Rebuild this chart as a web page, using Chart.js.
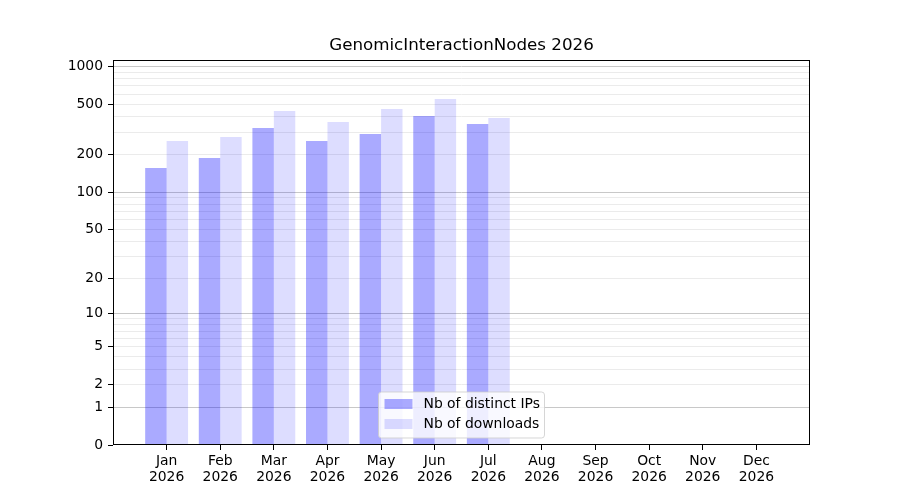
<!DOCTYPE html>
<html>
<head>
<meta charset="utf-8">
<script src="https://cdn.jsdelivr.net/npm/chart.js@4.4.1/dist/chart.umd.min.js"></script>
<style>
  html, body { margin: 0; padding: 0; background: #ffffff; }
  #wrap { width: 900px; height: 500px; }
</style>
</head>
<body>
<div id="wrap"><canvas id="c" width="900" height="500"></canvas></div>
<script>
// ---- data ----
const chartTitle = 'GenomicInteractionNodes 2026';
const months = ['Jan','Feb','Mar','Apr','May','Jun','Jul','Aug','Sep','Oct','Nov','Dec'];
const yearLabel = '2026';
const distinctIPs = [156, 187, 324, 255, 290, 403, 349];
const downloads   = [255, 275, 442, 361, 458, 551, 389];
const seriesNames = ['Nb of distinct IPs', 'Nb of downloads'];
const yTickLabels = [0, 1, 2, 5, 10, 20, 50, 100, 200, 500, 1000];
const yMajorGrid  = [1, 10, 100, 1000];
const yMinorGrid  = [2,3,4,5,6,7,8,9,20,30,40,50,60,70,80,90,200,300,400,500,600,700,800,900];
const yMax = 1123;

const FONT = 'DejaVu Sans';

// ---- custom log10(1+x) scale ----
const tf = v => Math.log10(1 + Math.max(0, v));
class Log1pScale extends Chart.LinearScale {
  buildTicks() {
    const vals = [0].concat(yMajorGrid, yMinorGrid).sort((a, b) => a - b);
    return vals.map(v => ({ value: v }));
  }
  configure() {
    super.configure();
    this._tMin = tf(this.min);
    this._tMax = tf(this.max);
  }
  getPixelForValue(v) {
    return this.getPixelForDecimal((tf(v) - this._tMin) / (this._tMax - this._tMin));
  }
  getValueForPixel(p) {
    const d = this.getDecimalForPixel(p);
    return Math.pow(10, this._tMin + d * (this._tMax - this._tMin)) - 1;
  }
}
Log1pScale.id = 'log1p';
Log1pScale.defaults = {};
Chart.register(Log1pScale);

// ---- plugins ----
const framePlugin = {
  id: 'frame',
  afterDatasetsDraw(chart) {
    const { ctx, chartArea: a } = chart;
    ctx.save();
    ctx.strokeStyle = '#000000';
    ctx.lineWidth = 1;
    ctx.strokeRect(Math.round(a.left) + 0.5, Math.round(a.top) + 0.5,
                   Math.round(a.right - a.left) - 1, Math.round(a.bottom - a.top) - 1);
    ctx.restore();
  }
};

const titlePlugin = {
  id: 'mplTitle',
  afterDraw(chart) {
    const { ctx, chartArea: a } = chart;
    ctx.save();
    ctx.font = '16.7px "' + FONT + '"';
    ctx.fillStyle = '#000000';
    ctx.textAlign = 'center';
    ctx.textBaseline = 'middle';
    ctx.fillText(chartTitle, (a.left + a.right) / 2, a.top - 14);
    ctx.restore();
  }
};

const legendPlugin = {
  id: 'mplLegend',
  afterDraw(chart) {
    const { ctx, chartArea: a } = chart;
    const w = 166, h = 46;
    const cx = (a.left + a.right) / 2;
    const x0 = cx - w / 2, y1 = a.bottom - 7, y0 = y1 - h;
    ctx.save();
    ctx.beginPath();
    const r = 3;
    ctx.moveTo(x0 + r, y0);
    ctx.lineTo(x0 + w - r, y0);
    ctx.quadraticCurveTo(x0 + w, y0, x0 + w, y0 + r);
    ctx.lineTo(x0 + w, y1 - r);
    ctx.quadraticCurveTo(x0 + w, y1, x0 + w - r, y1);
    ctx.lineTo(x0 + r, y1);
    ctx.quadraticCurveTo(x0, y1, x0, y1 - r);
    ctx.lineTo(x0, y0 + r);
    ctx.quadraticCurveTo(x0, y0, x0 + r, y0);
    ctx.closePath();
    ctx.fillStyle = 'rgba(255,255,255,0.8)';
    ctx.fill();
    ctx.strokeStyle = 'rgba(204,204,204,0.8)';
    ctx.lineWidth = 1;
    ctx.stroke();
    ctx.font = '13.9px "' + FONT + '"';
    ctx.textBaseline = 'middle';
    ctx.textAlign = 'left';
    chart.data.datasets.forEach((ds, i) => {
      const cy = y0 + 12 + i * 20;
      ctx.fillStyle = ds.backgroundColor;
      ctx.fillRect(x0 + 6, cy - 5, 28, 10);
      ctx.fillStyle = '#000000';
      ctx.fillText(ds.label, x0 + 45, cy);
    });
    ctx.restore();
  }
};

// ---- chart ----
new Chart(document.getElementById('c'), {
  type: 'bar',
  data: {
    datasets: [
      {
        label: seriesNames[0],
        data: distinctIPs.map((v, i) => ({ x: i, y: v })),
        backgroundColor: 'rgba(0,0,255,0.333)',
        borderWidth: 0,
        categoryPercentage: 0.8,
        barPercentage: 1.0
      },
      {
        label: seriesNames[1],
        data: downloads.map((v, i) => ({ x: i, y: v })),
        backgroundColor: 'rgba(0,0,255,0.133)',
        borderWidth: 0,
        categoryPercentage: 0.8,
        barPercentage: 1.0
      }
    ]
  },
  options: {
    responsive: false,
    animation: false,
    devicePixelRatio: 1,
    layout: { padding: { top: 60, right: 90, bottom: 0, left: 0 } },
    plugins: {
      legend: { display: false },
      title: { display: false },
      tooltip: { enabled: false }
    },
    scales: {
      x: {
        type: 'linear',
        offset: false,
        min: -1,
        max: 12,
        afterBuildTicks(scale) {
          scale.ticks = months.map((m, i) => ({ value: i }));
        },
        afterFit(scale) { scale.height = 55; },
        ticks: {
          autoSkip: false,
          maxRotation: 0,
          padding: 3,
          color: '#000000',
          font: { family: FONT, size: 13.9, lineHeight: 1.15 },
          callback: (v) => [months[v], yearLabel]
        },
        grid: {
          offset: false,
          drawOnChartArea: false,
          drawTicks: true,
          tickLength: 5,
          tickColor: '#000000'
        },
        border: { display: false }
      },
      y: {
        type: 'log1p',
        min: 0,
        max: yMax,
        afterFit(scale) { scale.width = 113; },
        ticks: {
          autoSkip: false,
          padding: 5,
          color: '#000000',
          font: { family: FONT, size: 13.9 },
          callback: (v) => yTickLabels.includes(v) ? String(v) : ''
        },
        grid: {
          drawTicks: true,
          tickLength: 5,
          lineWidth: 1,
          color: (c) => {
            const v = c.tick ? c.tick.value : null;
            if (v === 0) return 'rgba(0,0,0,0)';
            return yMajorGrid.includes(v) ? '#c8c8c8' : '#ebebeb';
          },
          tickColor: (c) => {
            const v = c.tick ? c.tick.value : null;
            return yTickLabels.includes(v) ? '#000000' : 'rgba(0,0,0,0)';
          }
        },
        border: { display: false }
      }
    }
  },
  plugins: [framePlugin, titlePlugin, legendPlugin]
});
</script>
</body>
</html>
